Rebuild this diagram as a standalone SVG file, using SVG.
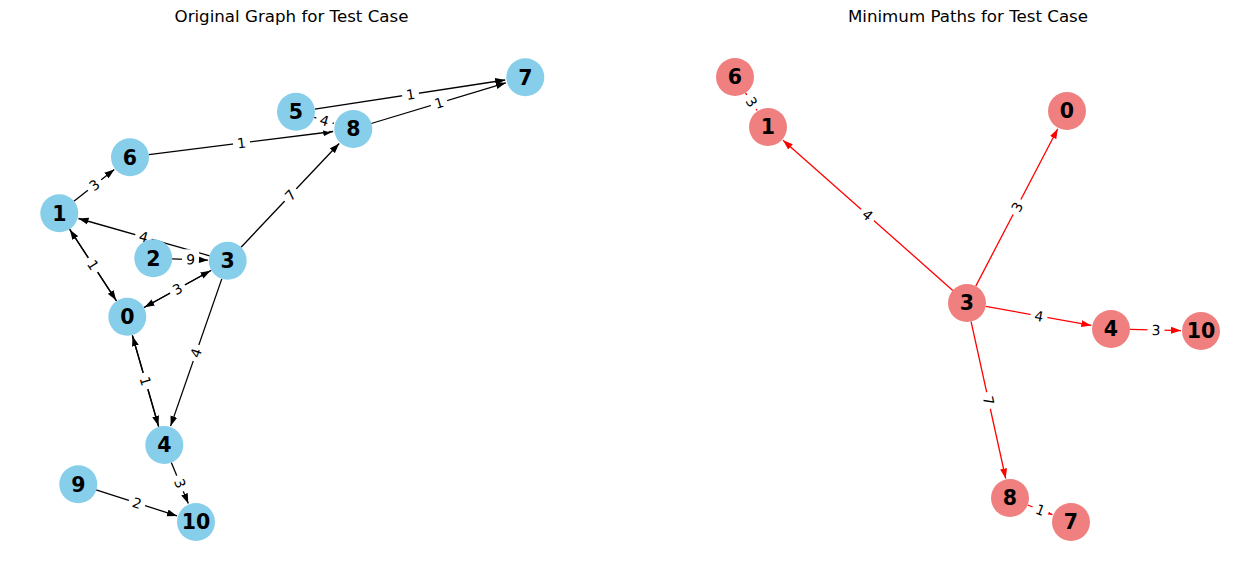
<svg xmlns="http://www.w3.org/2000/svg" width="1259" height="579" viewBox="0 0 1259 579">
<defs>
<marker id="ab" markerUnits="userSpaceOnUse" markerWidth="10" markerHeight="8" refX="10" refY="4" orient="auto"><path d="M0,0.5 L10,4 L0,7.5 z" fill="#000"/></marker>
<marker id="ar" markerUnits="userSpaceOnUse" markerWidth="10" markerHeight="8" refX="10" refY="4" orient="auto"><path d="M0,0.5 L10,4 L0,7.5 z" fill="#f00"/></marker>
</defs>
<style>
.title{font-family:"DejaVu Sans",sans-serif;font-size:16.67px;fill:#000;text-anchor:middle}
.e{stroke:#000;stroke-width:1.3;fill:none;marker-end:url(#ab)}
.r{stroke:#f00;stroke-width:1.3;fill:none;marker-end:url(#ar)}
.lb rect{fill:#fff;stroke:none}
.lb text{font-family:"DejaVu Sans",sans-serif;font-size:13.9px;fill:#000;text-anchor:middle}
.nb circle{fill:#87CEEB}
.nr circle{fill:#F08080}
.n text{font-family:"DejaVu Sans",sans-serif;font-size:20.5px;font-weight:bold;fill:#000;text-anchor:middle}
</style>
<rect width="1259" height="579" fill="#fff"/>
<text class="title" x="291.5" y="22">Original Graph for Test Case</text>
<text class="title" x="968" y="22">Minimum Paths for Test Case</text>

<g id="connectors">
<!-- left graph edges -->
<line class="e" x1="314.8" y1="109.1" x2="505.2" y2="80.0"/>
<line class="e" x1="371.2" y1="123.5" x2="505.9" y2="82.8"/>
<line class="e" x1="314.2" y1="117.4" x2="333.8" y2="123.3"/>
<line class="e" x1="148.9" y1="154.6" x2="333.2" y2="131.5"/>
<line class="e" x1="73.9" y1="201.2" x2="114.3" y2="169.4"/>
<line class="e" x1="209.7" y1="255.8" x2="78.5" y2="218.5"/>
<line class="e" x1="69.4" y1="228.9" x2="116.1" y2="300.3"/>
<line class="e" x1="116.6" y1="301.1" x2="69.9" y2="229.7"/>
<line class="e" x1="172" y1="258.8" x2="208" y2="260.2"/>
<line class="e" x1="143.6" y1="307.8" x2="210.5" y2="270.7"/>
<line class="e" x1="211.4" y1="270.2" x2="144.5" y2="307.3"/>
<line class="e" x1="241.1" y1="247.2" x2="339.2" y2="143.5"/>
<line class="e" x1="221.8" y1="278.9" x2="170.6" y2="426.1"/>
<line class="e" x1="132.3" y1="335.3" x2="158.4" y2="425.8"/>
<line class="e" x1="158.7" y1="426.7" x2="132.6" y2="336.2"/>
<line class="e" x1="171.3" y1="462.5" x2="188.3" y2="503.5"/>
<line class="e" x1="96.1" y1="489.8" x2="177" y2="515.9"/>
<!-- right graph edges -->
<line class="r" x1="745.5" y1="92.9" x2="757" y2="110.3"/>
<line class="r" x1="952.8" y1="290.4" x2="783" y2="140.2"/>
<line class="r" x1="975.8" y1="286.1" x2="1057.8" y2="128.7"/>
<line class="r" x1="985.7" y1="306.4" x2="1091.3" y2="325.4"/>
<line class="r" x1="1130" y1="329.4" x2="1181" y2="330.6"/>
<line class="r" x1="971.1" y1="321.6" x2="1005.7" y2="478.5"/>
<line class="r" x1="1027.7" y1="505" x2="1052.4" y2="514.7"/>

<!-- edge labels -->
<g class="lb" transform="translate(410.5,94.5) rotate(-8.69)"><rect x="-8.5" y="-10" width="17" height="20" rx="4"/><text y="5">1</text></g>
<g class="lb" transform="translate(439,103) rotate(-16.82)"><rect x="-8.5" y="-10" width="17" height="20" rx="4"/><text y="5">1</text></g>
<g class="lb" transform="translate(324.5,120.5) rotate(16.6)"><rect x="-8.5" y="-10" width="17" height="20" rx="4"/><text y="5">4</text></g>
<g class="lb" transform="translate(241.5,143) rotate(-7.16)"><rect x="-8.5" y="-10" width="17" height="20" rx="4"/><text y="5">1</text></g>
<g class="lb" transform="translate(94.5,185) rotate(-38.26)"><rect x="-8.5" y="-10" width="17" height="20" rx="4"/><text y="5">3</text></g>
<g class="lb" transform="translate(143.5,237) rotate(15.86)"><rect x="-8.5" y="-10" width="17" height="20" rx="4"/><text y="5">4</text></g>
<g class="lb" transform="translate(93,265) rotate(56.82)"><rect x="-8.5" y="-10" width="17" height="20" rx="4"/><text y="5">1</text></g>
<g class="lb" transform="translate(190.5,259.5) rotate(2.29)"><rect x="-8.5" y="-10" width="17" height="20" rx="4"/><text y="5">9</text></g>
<g class="lb" transform="translate(177.5,289) rotate(-29)"><rect x="-8.5" y="-10" width="17" height="20" rx="4"/><text y="5">3</text></g>
<g class="lb" transform="translate(290.5,195) rotate(-46.56)"><rect x="-8.5" y="-10" width="17" height="20" rx="4"/><text y="5">7</text></g>
<g class="lb" transform="translate(196,353) rotate(-70.82)"><rect x="-8.5" y="-10" width="17" height="20" rx="4"/><text y="5">4</text></g>
<g class="lb" transform="translate(145.5,381) rotate(73.88)"><rect x="-8.5" y="-10" width="17" height="20" rx="4"/><text y="5">1</text></g>
<g class="lb" transform="translate(180,483.5) rotate(67.43)"><rect x="-8.5" y="-10" width="17" height="20" rx="4"/><text y="5">3</text></g>
<g class="lb" transform="translate(137,503) rotate(17.85)"><rect x="-8.5" y="-10" width="17" height="20" rx="4"/><text y="5">2</text></g>

<g class="lb" transform="translate(751.5,102) rotate(56.58)"><rect x="-8.5" y="-10" width="17" height="20" rx="4"/><text y="5">3</text></g>
<g class="lb" transform="translate(867.5,215) rotate(41.5)"><rect x="-8.5" y="-10" width="17" height="20" rx="4"/><text y="5">4</text></g>
<g class="lb" transform="translate(1017,207) rotate(-62.49)"><rect x="-8.5" y="-10" width="17" height="20" rx="4"/><text y="5">3</text></g>
<g class="lb" transform="translate(1039,316) rotate(10.23)"><rect x="-8.5" y="-10" width="17" height="20" rx="4"/><text y="5">4</text></g>
<g class="lb" transform="translate(1156,330) rotate(1.27)"><rect x="-8.5" y="-10" width="17" height="20" rx="4"/><text y="5">3</text></g>
<g class="lb" transform="translate(988.5,400.5) rotate(77.56)"><rect x="-8.5" y="-10" width="17" height="20" rx="4"/><text y="5">7</text></g>
<g class="lb" transform="translate(1040.5,510) rotate(21.48)"><rect x="-8.5" y="-10" width="17" height="20" rx="4"/><text y="5">1</text></g>
</g>

<!-- left nodes -->
<g id="L0" class="n nb"><circle cx="127.3" cy="316.7" r="19"/><text x="127.3" y="324">0</text></g>
<g id="L1" class="n nb"><circle cx="59.3" cy="213.3" r="19"/><text x="59.3" y="220.6">1</text></g>
<g id="L2" class="n nb"><circle cx="153.3" cy="258.3" r="19"/><text x="153.3" y="265.6">2</text></g>
<g id="L3" class="n nb"><circle cx="227.7" cy="260.7" r="19"/><text x="227.7" y="268">3</text></g>
<g id="L4" class="n nb"><circle cx="164.3" cy="445" r="19"/><text x="164.3" y="452.3">4</text></g>
<g id="L5" class="n nb"><circle cx="296" cy="111.7" r="19"/><text x="296" y="119">5</text></g>
<g id="L6" class="n nb"><circle cx="130" cy="157.3" r="19"/><text x="130" y="164.6">6</text></g>
<g id="L7" class="n nb"><circle cx="525.3" cy="77.3" r="19"/><text x="525.3" y="84.6">7</text></g>
<g id="L8" class="n nb"><circle cx="353.3" cy="129" r="19"/><text x="353.3" y="136.3">8</text></g>
<g id="L9" class="n nb"><circle cx="78.3" cy="484.3" r="19"/><text x="78.3" y="491.6">9</text></g>
<g id="L10" class="n nb"><circle cx="196" cy="522" r="19"/><text x="196" y="529.3">10</text></g>

<!-- right nodes -->
<g id="R0" class="n nr"><circle cx="1067" cy="111" r="19"/><text x="1067" y="118.3">0</text></g>
<g id="R1" class="n nr"><circle cx="768" cy="127" r="19"/><text x="768" y="134.3">1</text></g>
<g id="R3" class="n nr"><circle cx="967" cy="303" r="19"/><text x="967" y="310.3">3</text></g>
<g id="R4" class="n nr"><circle cx="1111" cy="329" r="19"/><text x="1111" y="336.3">4</text></g>
<g id="R6" class="n nr"><circle cx="735" cy="77" r="19"/><text x="735" y="84.3">6</text></g>
<g id="R7" class="n nr"><circle cx="1071" cy="522" r="19"/><text x="1071" y="529.3">7</text></g>
<g id="R8" class="n nr"><circle cx="1010" cy="498" r="19"/><text x="1010" y="505.3">8</text></g>
<g id="R10" class="n nr"><circle cx="1201" cy="331" r="19"/><text x="1201" y="338.3">10</text></g>
</svg>
